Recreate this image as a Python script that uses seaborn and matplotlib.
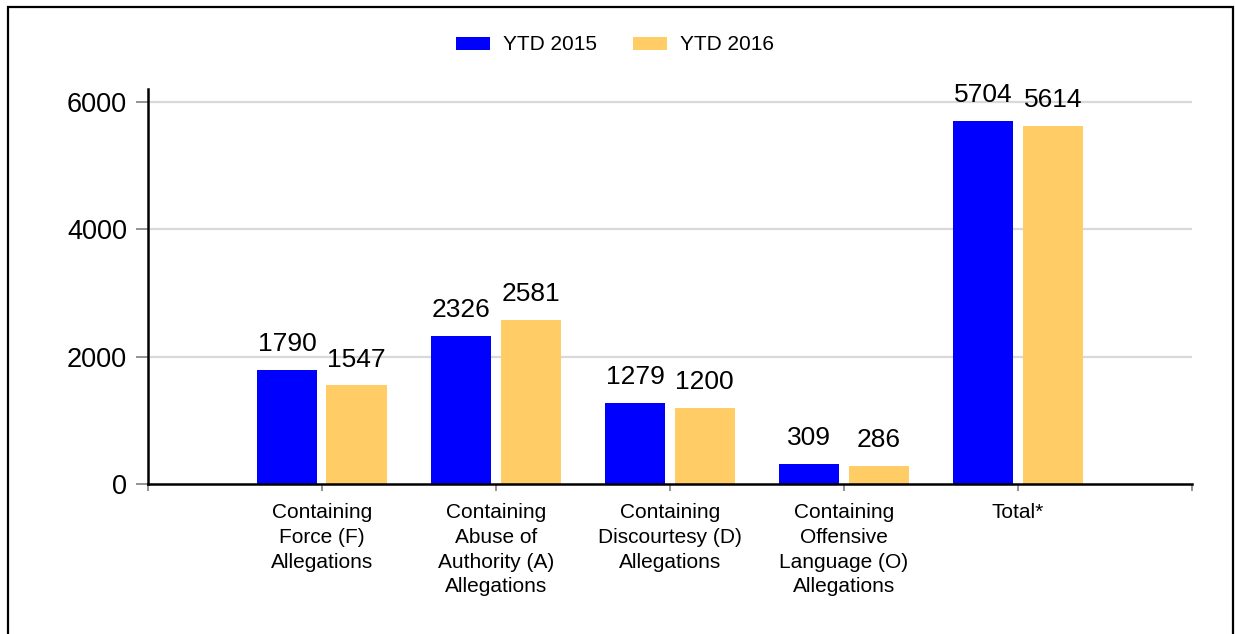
import pandas as pd
import seaborn as sns
import matplotlib.pyplot as plt
from matplotlib.patches import Rectangle

categories = [
    "Containing\nForce (F)\nAllegations",
    "Containing\nAbuse of\nAuthority (A)\nAllegations",
    "Containing\nDiscourtesy (D)\nAllegations",
    "Containing\nOffensive\nLanguage (O)\nAllegations",
    "Total*",
]
ytd_2015 = [1790, 2326, 1279, 309, 5704]
ytd_2016 = [1547, 2581, 1200, 286, 5614]
series = ["YTD 2015", "YTD 2016"]
colors = ["#0000FF", "#FFCC66"]

df = pd.DataFrame({
    "category": categories * 2,
    "value": ytd_2015 + ytd_2016,
    "series": [series[0]] * len(categories) + [series[1]] * len(categories),
})

sns.set_style("white")
plt.rcParams["font.family"] = ["Liberation Sans", "DejaVu Sans"]
plt.rcParams["text.color"] = "black"
plt.rcParams["xtick.labelcolor"] = "black"
plt.rcParams["ytick.labelcolor"] = "black"

fig = plt.figure(figsize=(12.35, 6.34), dpi=100)
ax = fig.add_axes([0.1198, 0.2366, 0.9652 - 0.1198, 0.8596 - 0.2366])

sns.barplot(data=df, x="category", y="value", hue="series", palette=colors,
            order=categories, hue_order=series, width=0.8, gap=0.13,
            linewidth=0, saturation=1, ax=ax, zorder=2)

for cont in ax.containers:
    ax.bar_label(cont, fmt="%d", padding=10, fontsize=19, color="black")

ax.set_xlim(-1, 5)
ax.set_ylim(0, 6200)
ax.set_yticks([0, 2000, 4000, 6000])
ax.set_xticks(range(-1, 6))
ax.set_xticklabels([""] + categories + [""], fontsize=15, linespacing=1.37)
ax.tick_params(axis="y", labelsize=19.5, length=9, width=1.2, color="#808080",
               labelcolor="black", pad=6, left=True)
ax.tick_params(axis="x", length=5, width=1.2, color="#808080",
               labelcolor="black", pad=9, bottom=True)
ax.set_xlabel("")
ax.set_ylabel("")

for y in [2000, 4000, 6000]:
    ax.axhline(y, color="#d9d9d9", lw=1.6, zorder=1)

sns.despine(ax=ax)
for side in ["left", "bottom"]:
    ax.spines[side].set_color("black")
    ax.spines[side].set_linewidth(1.8)

leg = ax.legend(loc="center", bbox_to_anchor=(615 / 1235, 1 - 45 / 634),
                bbox_transform=fig.transFigure, ncol=2, frameon=False,
                fontsize=15, handlelength=1.63, handleheight=0.58,
                handletextpad=0.62, columnspacing=1.7)
for t in leg.get_texts():
    t.set_color("black")

fig.patches.append(Rectangle((8 / 1235, -0.05), (1233 - 8) / 1235, 1.05 - 6.5 / 634,
                             transform=fig.transFigure, fill=False,
                             edgecolor="black", lw=1.6))

fig.savefig("out.png", dpi=100)
